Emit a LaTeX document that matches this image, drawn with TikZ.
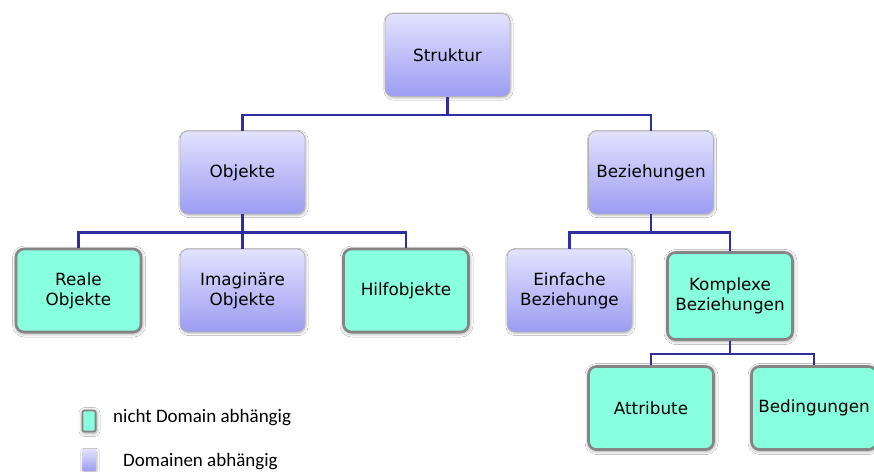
\documentclass[tikz,border=0pt]{standalone}
\usepackage{fontspec}
\setmainfont{DejaVu Sans}
\newfontfamily\legendfont{Carlito}
\usetikzlibrary{shadows.blur}
\definecolor{lavtop}{HTML}{E2E2FF}
\definecolor{lavbot}{HTML}{9C9CF2}
\definecolor{aqua}{HTML}{88FFDE}
\definecolor{linkblue}{HTML}{2E2EA0}
\definecolor{rimgray}{HTML}{858585}
\tikzset{
  box/.style={rounded corners=8pt, minimum width=125pt, minimum height=83pt,
    align=center, font=\fontsize{16.8}{20}\selectfont, inner sep=2pt},
  domdep/.style={box, top color=lavtop, bottom color=lavbot, draw=gray!60,
    line width=0.8pt, blur shadow={shadow xshift=1pt, shadow yshift=-1.5pt, shadow blur steps=5, shadow opacity=25}},
  nodomdep/.style={box, fill=aqua, draw=rimgray, line width=2.6pt,
    blur shadow={shadow xshift=0.5pt, shadow yshift=-1pt, shadow blur steps=8, shadow opacity=50, shadow blur radius=4pt}},
  link/.style={draw=linkblue, line width=2.2pt},
  legendtext/.style={font=\legendfont\fontsize{19}{23}\selectfont, anchor=west, inner sep=0pt}
}
\begin{document}
\begin{tikzpicture}[x=1pt, y=-1pt]
  \useasboundingbox (0,0) rectangle (874,471);
  \fill[white] (0,0) rectangle (874,471);

  % hierarchy
  \node[domdep]   (struktur)  at (447.5,55)  {Struktur};
  \node[domdep]   (objekte)   at (242.5,172.5) {Objekte};
  \node[domdep]   (bez)       at (651,172.5) {Beziehungen};
  \node[nodomdep] (reale)     at (78.5,290.5) {Reale\\Objekte};
  \node[domdep]   (imag)      at (242.5,290.5) {Imaginäre\\Objekte};
  \node[nodomdep] (hilf)      at (406,290.5) {Hilfobjekte};
  \node[domdep]   (einf)      at (569.5,290.5) {Einfache\\Beziehunge};
  \node[nodomdep, minimum height=87pt] (kompl) at (730,296) {Komplexe\\Beziehungen};
  \node[nodomdep] (attr)      at (651,408)   {Attribute};
  \node[nodomdep] (bed)       at (814,408)   {Bedingungen};

  % connectors
  \draw[link] (struktur.south) -- ++(0,18) -| (objekte.north);
  \draw[link] (struktur.south) ++(0,18) -| (bez.north);
  \draw[link] (objekte.south) -- ++(0,18) -| (reale.north);
  \draw[link] (objekte.south) -- (imag.north);
  \draw[link] (objekte.south) ++(0,18) -| (hilf.north);
  \draw[link] (bez.south) -- ++(0,18) -| (einf.north);
  \draw[link] (bez.south) ++(0,18) -| (kompl.north);
  \draw[link] (kompl.south) -- ++(0,13) -| (attr.north);
  \draw[link] (kompl.south) ++(0,13) -| (bed.north);

  % legend
  \node[nodomdep, minimum width=13pt, minimum height=21pt, rounded corners=2pt, line width=1.8pt] (legA) at (89,421) {};
  \node[domdep, minimum width=14pt, minimum height=22pt, rounded corners=1pt, draw=none] (legB) at (89,460) {};
  \node[legendtext] (legAt) at (113,418) {nicht Domain abhängig};
  \node[legendtext] (legBt) at (123,462) {Domainen abhängig};
\end{tikzpicture}
\end{document}
